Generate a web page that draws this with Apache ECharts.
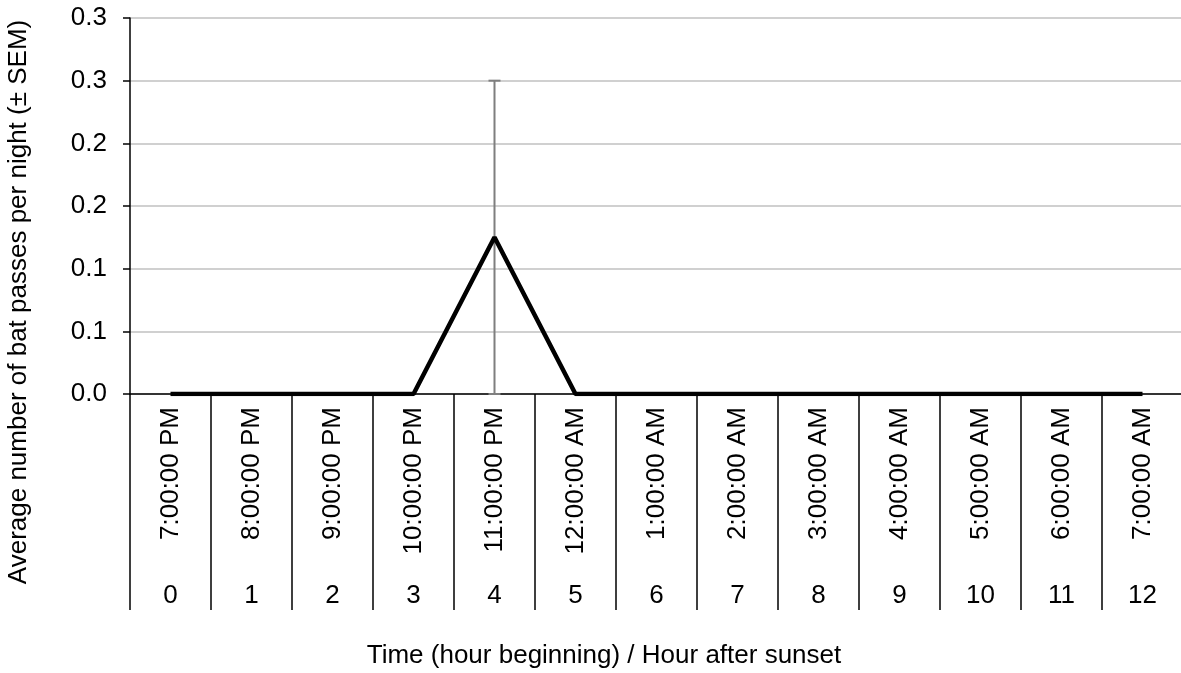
<!DOCTYPE html>
<html>
<head>
<meta charset="utf-8">
<script src="https://cdn.jsdelivr.net/npm/echarts@6/dist/echarts.min.js"></script>
<style>
html,body{margin:0;padding:0;background:#fff;}
#chart{width:1181px;height:673px;}
</style>
</head>
<body>
<div id="chart"></div>
<script>
const timeLabels = ['7:00:00 PM','8:00:00 PM','9:00:00 PM','10:00:00 PM','11:00:00 PM','12:00:00 AM','1:00:00 AM','2:00:00 AM','3:00:00 AM','4:00:00 AM','5:00:00 AM','6:00:00 AM','7:00:00 AM'];
const hourLabels = ['0','1','2','3','4','5','6','7','8','9','10','11','12'];
const meanPasses = [0, 0, 0, 0, 0.125, 0, 0, 0, 0, 0, 0, 0, 0];
const semPasses  = [0, 0, 0, 0, 0.125, 0, 0, 0, 0, 0, 0, 0, 0];
const yTickLabels = ['0.0','0.1','0.1','0.2','0.2','0.3','0.3'];
const xTitle = 'Time (hour beginning) / Hour after sunset';
const yTitle = 'Average number of bat passes per night (± SEM)';

const FONT = '"Liberation Sans", Arial, sans-serif';
const FS = 26;

const errData = [];
meanPasses.forEach((v, i) => { if (semPasses[i] > 0) errData.push([i, v - semPasses[i], v + semPasses[i]]); });

const chart = echarts.init(document.getElementById('chart'));
chart.setOption({
  animation: false,
  backgroundColor: '#ffffff',
  textStyle: { fontFamily: FONT },
  grid: { left: 130, top: 18, width: 1053, height: 376, containLabel: false, outerBoundsMode: 'none' },
  xAxis: [
    {
      type: 'category', data: timeLabels, position: 'bottom', boundaryGap: true,
      axisLine: { show: true, lineStyle: { color: '#000', width: 1.5 } },
      axisTick: { show: true, alignWithLabel: false, length: 216, lineStyle: { color: '#000', width: 1.5 } },
      axisLabel: { rotate: 90, margin: 13, fontSize: FS, color: '#000', fontFamily: FONT, interval: 0 },
      splitLine: { show: false }
    },
    {
      type: 'category', data: hourLabels, position: 'bottom', boundaryGap: true,
      axisLine: { show: false }, axisTick: { show: false },
      axisLabel: { margin: 189, fontSize: FS, color: '#000', fontFamily: FONT, interval: 0 }
    }
  ],
  yAxis: {
    type: 'value', min: 0, max: 0.3, interval: 0.05,
    axisLine: { show: true, lineStyle: { color: '#000', width: 1.5 } },
    axisTick: { show: true, length: 7, lineStyle: { color: '#000', width: 1.5 } },
    axisLabel: { margin: 23, fontSize: FS, color: '#000', fontFamily: FONT,
      formatter: v => yTickLabels[Math.round(v / 0.05)] },
    splitLine: { show: true, lineStyle: { color: '#c0c0c0', width: 1.5 } }
  },
  graphic: [
    { type: 'text', x: 604, y: 656,
      style: { text: xTitle, font: FS + 'px ' + FONT, fill: '#000', align: 'center', verticalAlign: 'middle' } },
    { type: 'text', x: 19, y: 302, rotation: Math.PI / 2,
      style: { text: yTitle, font: FS + 'px ' + FONT, fill: '#000', align: 'center', verticalAlign: 'middle' } }
  ],
  series: [
    {
      type: 'custom', xAxisIndex: 0, yAxisIndex: 0, data: errData, z: 1,
      renderItem: function (params, api) {
        const x = api.value(0);
        const lo = api.coord([x, api.value(1)]);
        const hi = api.coord([x, api.value(2)]);
        const hw = 6;
        const st = { stroke: '#7f7f7f', lineWidth: 2 };
        return { type: 'group', children: [
          { type: 'line', shape: { x1: hi[0], y1: lo[1], x2: hi[0], y2: hi[1] }, style: st },
          { type: 'line', shape: { x1: hi[0] - hw, y1: hi[1], x2: hi[0] + hw, y2: hi[1] }, style: st },
          { type: 'line', shape: { x1: lo[0] - hw, y1: lo[1], x2: lo[0] + hw, y2: lo[1] }, style: st }
        ]};
      }
    },
    {
      type: 'line', xAxisIndex: 0, yAxisIndex: 0, data: meanPasses, z: 3,
      showSymbol: false, symbol: 'none',
      lineStyle: { color: '#000', width: 4.5 }
    }
  ]
});
</script>
</body>
</html>
